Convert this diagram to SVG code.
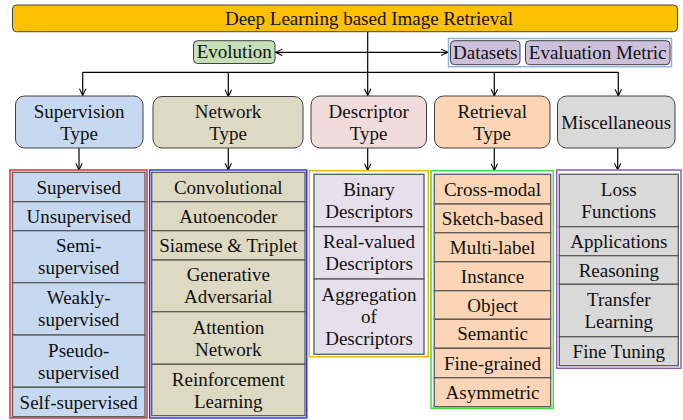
<svg xmlns="http://www.w3.org/2000/svg" width="683" height="420" viewBox="0 0 683 420" font-family="'Liberation Serif', 'Times New Roman', Times, serif">
<style>
text{font-family:'Liberation Serif','Times New Roman',Times,serif;font-size:19px;fill:#111;text-anchor:middle}
.box{stroke:#404040;stroke-width:1}
.cell{stroke:#5a5a5a;stroke-width:1.3}
.conn{stroke:#000;stroke-width:1.2;fill:none}
.arr{marker-end:url(#ah)}
.frame{fill:none;stroke-width:1.5}
.sup{fill:#C6D9F0}
.net{fill:#DDD9C3}
.des{fill:#F2DCDB}
.desc{fill:#E5E0EC}
.ret{fill:#FBD5B5}
.mis{fill:#D9D9D9}
.dm{fill:#CCC0DA}
</style>
<defs>
<marker id="ah" viewBox="0 0 10 10" refX="9.5" refY="5" markerWidth="8" markerHeight="8" orient="auto-start-reverse" markerUnits="userSpaceOnUse">
<path d="M1,1 L9.5,5 L1,9" fill="none" stroke="#000" stroke-width="1.3"/>
</marker>
</defs>
<rect width="683" height="420" fill="#fff"/>

<g id="connectors">
<path class="conn arr" d="M367.7,31.7 V95.5"/>
<path class="conn" d="M82.7,72.3 H618.3"/>
<path class="conn arr" d="M82.7,72.3 V95.5"/>
<path class="conn arr" d="M228.3,72.3 V96.5"/>
<path class="conn arr" d="M494.3,72.3 V96"/>
<path class="conn arr" d="M618.3,72.3 V96"/>
<path class="conn arr" d="M275.5,52.3 H448" style="marker-start:url(#ah)"/>
<path class="conn arr" d="M79,148 V170"/>
<path class="conn arr" d="M228.3,148 V170"/>
<path class="conn arr" d="M367.7,148 V170.5"/>
<path class="conn arr" d="M494.3,148 V170.5"/>
<path class="conn arr" d="M617.7,148 V170"/>
</g>

<g id="title">
<rect class="box" x="12.5" y="5" width="665" height="26.7" rx="4" fill="#FFC000"/>
<text x="369" y="25">Deep Learning based Image Retrieval</text>
</g>

<g id="evolution">
<rect class="box" x="193.5" y="40.7" width="81.5" height="22.8" rx="4" fill="#C5E0B4"/>
<text x="234.2" y="58.3">Evolution</text>
</g>

<g id="datasets-metric">
<rect x="448.5" y="38.5" width="223" height="28.2" fill="none" stroke="#8DB3E2" stroke-width="1.5"/>
<g id="datasets">
<rect class="box dm" x="450.5" y="40.7" width="69.5" height="24" rx="4"/>
<text x="485.2" y="59">Datasets</text>
</g>
<g id="evaluation-metric">
<rect class="box dm" x="525.5" y="40.7" width="144.5" height="24" rx="4"/>
<text x="597.7" y="59">Evaluation Metric</text>
</g>
</g>

<g id="supervision-type">
<rect class="box sup" x="15.5" y="96" width="127.5" height="52" rx="9"/>
<text x="79.2" y="117.5">Supervision</text>
<text x="79.2" y="139.5">Type</text>
</g>
<g id="network-type">
<rect class="box net" x="153" y="96.5" width="150" height="51.5" rx="9"/>
<text x="228" y="117.5">Network</text>
<text x="228" y="139.5">Type</text>
</g>
<g id="descriptor-type">
<rect class="box des" x="311" y="96" width="115.5" height="52" rx="9"/>
<text x="368.7" y="117.5">Descriptor</text>
<text x="368.7" y="139.5">Type</text>
</g>
<g id="retrieval-type">
<rect class="box ret" x="434.5" y="96" width="115.5" height="52" rx="9"/>
<text x="492.2" y="117.5">Retrieval</text>
<text x="492.2" y="139.5">Type</text>
</g>
<g id="miscellaneous">
<rect class="box mis" x="557.5" y="96" width="117.5" height="52" rx="9"/>
<text x="616.2" y="128.5">Miscellaneous</text>
</g>

<g id="supervision-list">
<rect class="frame" x="10" y="170" width="137" height="248" stroke="#D83030"/>
<g id="supervised"><rect class="cell sup" x="12.5" y="172.3" width="132.5" height="29.4"/><text x="78.7" y="193.5">Supervised</text></g>
<g id="unsupervised"><rect class="cell sup" x="12.5" y="201.7" width="132.5" height="29"/><text x="78.7" y="222.7">Unsupervised</text></g>
<g id="semi-supervised"><rect class="cell sup" x="12.5" y="230.7" width="132.5" height="52"/><text x="78.7" y="252.2">Semi-</text><text x="78.7" y="274.2">supervised</text></g>
<g id="weakly-supervised"><rect class="cell sup" x="12.5" y="282.7" width="132.5" height="52.3"/><text x="78.7" y="304.3">Weakly-</text><text x="78.7" y="326.3">supervised</text></g>
<g id="pseudo-supervised"><rect class="cell sup" x="12.5" y="335" width="132.5" height="52.3"/><text x="78.7" y="356.6">Pseudo-</text><text x="78.7" y="378.6">supervised</text></g>
<g id="self-supervised"><rect class="cell sup" x="12.5" y="387.3" width="132.5" height="29.4"/><text x="78.7" y="408.5">Self-supervised</text></g>
</g>

<g id="network-list">
<rect class="frame" x="149.7" y="170" width="157" height="248" stroke="#3333EE"/>
<g id="convolutional"><rect class="cell net" x="151.7" y="172.3" width="153.3" height="29.4"/><text x="228.3" y="193.5">Convolutional</text></g>
<g id="autoencoder"><rect class="cell net" x="151.7" y="201.7" width="153.3" height="29"/><text x="228.3" y="222.7">Autoencoder</text></g>
<g id="siamese-triplet"><rect class="cell net" x="151.7" y="230.7" width="153.3" height="29.3"/><text x="228.3" y="251.8">Siamese &amp; Triplet</text></g>
<g id="generative-adversarial"><rect class="cell net" x="151.7" y="260" width="153.3" height="51.7"/><text x="228.3" y="281.3">Generative</text><text x="228.3" y="303.3">Adversarial</text></g>
<g id="attention-network"><rect class="cell net" x="151.7" y="311.7" width="153.3" height="52.6"/><text x="228.3" y="333.5">Attention</text><text x="228.3" y="355.5">Network</text></g>
<g id="reinforcement-learning"><rect class="cell net" x="151.7" y="364.3" width="153.3" height="51.4"/><text x="228.3" y="385.5">Reinforcement</text><text x="228.3" y="407.5">Learning</text></g>
</g>

<g id="descriptor-list">
<rect class="frame" x="309.3" y="170.7" width="119" height="186" stroke="#F2B400"/>
<g id="binary-descriptors"><rect class="cell desc" x="314" y="174.3" width="110" height="52.4"/><text x="369" y="196">Binary</text><text x="369" y="218">Descriptors</text></g>
<g id="real-valued-descriptors"><rect class="cell desc" x="314" y="226.7" width="110" height="52.3"/><text x="369" y="248.3">Real-valued</text><text x="369" y="270.3">Descriptors</text></g>
<g id="aggregation-descriptors"><rect class="cell desc" x="314" y="279" width="110" height="75.3"/><text x="369" y="301.2">Aggregation</text><text x="369" y="323.2">of</text><text x="369" y="345.2">Descriptors</text></g>
</g>

<g id="retrieval-list">
<rect class="frame" x="431" y="170.7" width="122.3" height="237.6" stroke="#3FE03F"/>
<g id="cross-modal"><rect class="cell ret" x="434.3" y="174.3" width="116.4" height="29.7"/><text x="492.5" y="195.7">Cross-modal</text></g>
<g id="sketch-based"><rect class="cell ret" x="434.3" y="204" width="116.4" height="28.7"/><text x="492.5" y="224.9">Sketch-based</text></g>
<g id="multi-label"><rect class="cell ret" x="434.3" y="232.7" width="116.4" height="29"/><text x="492.5" y="253.7">Multi-label</text></g>
<g id="instance"><rect class="cell ret" x="434.3" y="261.7" width="116.4" height="29"/><text x="492.5" y="282.7">Instance</text></g>
<g id="object"><rect class="cell ret" x="434.3" y="290.7" width="116.4" height="28.6"/><text x="492.5" y="311.5">Object</text></g>
<g id="semantic"><rect class="cell ret" x="434.3" y="319.3" width="116.4" height="29"/><text x="492.5" y="340.3">Semantic</text></g>
<g id="fine-grained"><rect class="cell ret" x="434.3" y="348.3" width="116.4" height="29.4"/><text x="492.5" y="369.5">Fine-grained</text></g>
<g id="asymmetric"><rect class="cell ret" x="434.3" y="377.7" width="116.4" height="29"/><text x="492.5" y="398.7">Asymmetric</text></g>
</g>

<g id="misc-list">
<rect class="frame" x="556.7" y="170" width="124.3" height="198.3" stroke="#8A5CB8"/>
<g id="loss-functions"><rect class="cell mis" x="559.3" y="174.3" width="119" height="52.4"/><text x="618.8" y="196">Loss</text><text x="618.8" y="218">Functions</text></g>
<g id="applications"><rect class="cell mis" x="559.3" y="226.7" width="119" height="29"/><text x="618.8" y="247.7">Applications</text></g>
<g id="reasoning"><rect class="cell mis" x="559.3" y="255.7" width="119" height="28.6"/><text x="618.8" y="276.5">Reasoning</text></g>
<g id="transfer-learning"><rect class="cell mis" x="559.3" y="284.3" width="119" height="52.4"/><text x="618.8" y="306">Transfer</text><text x="618.8" y="328">Learning</text></g>
<g id="fine-tuning"><rect class="cell mis" x="559.3" y="336.7" width="119" height="29"/><text x="618.8" y="357.7">Fine Tuning</text></g>
</g>
</svg>
